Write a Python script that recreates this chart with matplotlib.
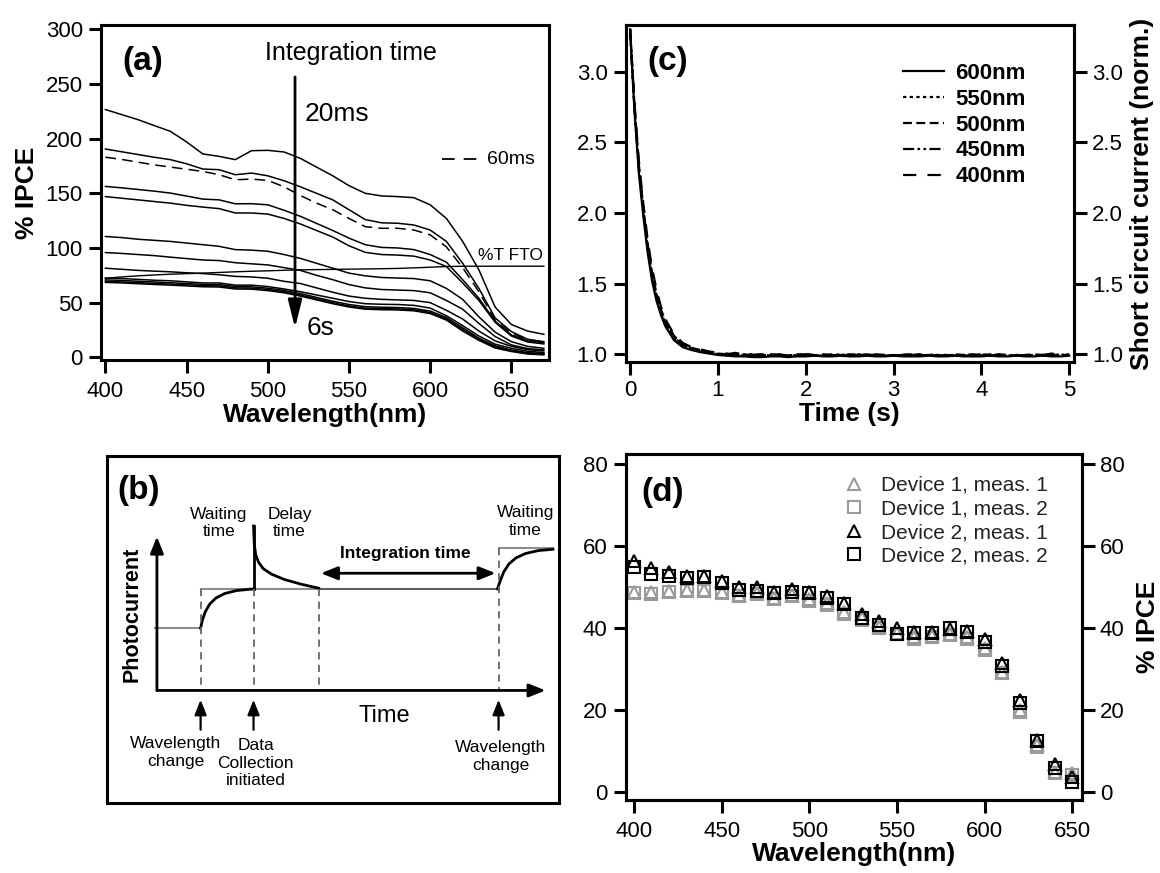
import matplotlib.pyplot as plt

plt.rcParams['font.family'] = ['Liberation Sans', 'DejaVu Sans']
plt.rcParams['axes.linewidth'] = 2.2

# ---------------- (a) IPCE spectra, integration time 20 ms -> 6 s
wl_a = [400, 410, 420, 430, 440, 450, 460, 470, 480, 490, 500, 510, 520, 530,
        540, 550, 560, 570, 580, 590, 600, 610, 620, 630, 640, 650, 660, 670]
ipce_20ms = [226.6, 222, 217.4, 212, 206.7, 197, 186, 183.8, 180.8, 189, 189.3, 187.8, 182, 174,
             166, 157, 150, 147.6, 147, 146, 139.5, 127, 106, 80, 46, 30, 24, 21]
ipce_t2 = [190.5, 188, 185.5, 183, 180.8, 177, 172.2, 171.6, 167, 168.5, 166, 161.5, 156, 150,
           144, 135, 126, 123, 122.6, 121, 116.4, 106, 86, 63, 36, 23.5, 16.5, 14.3]
ipce_60ms = [183, 181, 178.5, 176, 174, 172, 170, 167, 162.4, 163, 161.8, 156, 148, 141,
             135, 127, 119.5, 118, 118, 116.4, 112, 101, 82, 60, 34, 22, 16, 14]
ipce_t4 = [156.3, 155, 153.5, 152, 150.2, 147.5, 144.7, 144, 140.4, 140.5, 139.5, 134.5, 129, 122.5,
           116, 109, 103, 100.5, 100, 98.5, 94, 87, 71, 54, 33, 20.4, 15, 13.4]
ipce_t5 = [147, 145.5, 144, 142.5, 141, 139, 137.4, 136, 132, 132, 131, 127, 122, 116,
           110, 102, 96, 94, 93.5, 92.5, 89, 83, 68, 52, 32, 19.5, 14, 12.2]
ipce_t6 = [110.5, 109.5, 108, 107, 106, 104.5, 103, 101.5, 98.5, 98, 97, 94, 90.5, 86,
           81.5, 77, 74.5, 73, 72.5, 72, 70, 63, 53, 37, 23, 14.3, 10, 8.2]
ipce_t7 = [95.8, 95, 94, 93, 91.6, 90.3, 89, 88.5, 86.5, 85.5, 84.5, 82, 79.5, 75,
           71, 66.5, 63.5, 62, 61.5, 61, 59, 52, 44, 31, 19, 11.3, 8, 6.7]
ipce_t8 = [81.5, 80.5, 79.5, 78.8, 78.2, 77.3, 76.6, 75.5, 74, 73.5, 72.3, 69.5, 67.5, 63.5,
           59.5, 56, 54, 53, 52.5, 52, 50, 43, 35, 24, 15, 10, 7, 5.8]
ipce_t9 = [72.5, 72, 71.3, 70.5, 70, 69, 68, 68, 66, 66, 64.7, 62.5, 60, 57,
           54, 51, 49, 48.5, 48.3, 47.5, 45, 38, 29, 19.5, 12, 8.2, 5.5, 4.3]
ipce_t10 = [70.8, 70.3, 69.6, 68.9, 68.2, 67.5, 66.7, 66.5, 64.7, 64.5, 63.2, 61.2, 58.3, 54.8,
            51.3, 48.3, 46.3, 45.8, 45.5, 44.7, 42.3, 36.3, 27, 17.5, 10.5, 6.7, 4.2, 3.5]
ipce_t11 = [69.5, 69, 68.3, 67.6, 67, 66.3, 65.5, 65.3, 63.5, 63.3, 62, 60, 57, 53.5,
            50, 47, 45, 44.5, 44.3, 43.5, 41, 35, 25.5, 16.5, 9.5, 6, 3.6, 2.8]
ipce_6s = [68.5, 68, 67.3, 66.6, 66, 65.3, 64.5, 64.3, 62.5, 62.3, 61, 59, 56, 52.5,
           49, 46, 44, 43.5, 43.3, 42.5, 40, 34, 24, 15.5, 8.5, 5.3, 3, 2.2]
fto_T = [72.3, 73.5, 74.5, 75.3, 76, 76.5, 77, 77.6, 78.2, 78.7, 79.1, 79.6, 80, 80.2,
         80.4, 80.6, 80.8, 81, 81.3, 81.8, 82.4, 83, 83.3, 83.3, 83.3, 83.3, 83.3, 83.3]
solid_curves_a = [ipce_20ms, ipce_t2, ipce_t4, ipce_t5, ipce_t6, ipce_t7,
                  ipce_t8, ipce_t9, ipce_t10, ipce_t11, ipce_6s]

# ---------------- (c) normalised short circuit current transients
time_c = [0, 0.02, 0.05, 0.1, 0.15, 0.2, 0.25, 0.3, 0.35, 0.4, 0.5, 0.6, 0.7, 0.8, 0.9, 1.0,
          1.1, 1.2, 1.3, 1.4, 1.5, 1.6, 1.7, 1.8, 1.9, 2.0, 2.1, 2.2, 2.3, 2.4, 2.5,
          2.6, 2.7, 2.8, 2.9, 3.0, 3.1, 3.2, 3.3, 3.4, 3.5, 3.6, 3.7, 3.8, 3.9, 4.0,
          4.1, 4.2, 4.3, 4.4, 4.5, 4.6, 4.7, 4.8, 4.9, 5.0]
jsc_600 = [3.30, 3.06, 2.72, 2.28, 1.98, 1.72, 1.52, 1.38, 1.28, 1.20, 1.10, 1.05, 1.03, 1.015, 1.005, 0.995,
           0.99, 0.985, 0.985, 0.98, 0.98, 0.985, 0.985, 0.98, 0.985, 0.985, 0.99, 0.985, 0.985, 0.99, 0.985,
           0.985, 0.99, 0.985, 0.985, 0.99, 0.985, 0.985, 0.985, 0.99, 0.985, 0.985, 0.99, 0.985, 0.985, 0.985,
           0.99, 0.985, 0.985, 0.99, 0.985, 0.985, 0.99, 0.985, 0.985, 0.99]
jsc_550 = [3.30, 3.07, 2.75, 2.32, 2.02, 1.76, 1.56, 1.41, 1.30, 1.22, 1.12, 1.065, 1.04, 1.025, 1.01, 1.0,
           0.995, 0.99, 1.0, 0.99, 0.995, 0.99, 0.995, 0.99, 0.99, 0.995, 0.99, 0.995, 0.99, 1.0, 0.99,
           0.995, 0.99, 0.995, 0.99, 0.99, 0.995, 0.99, 0.995, 0.99, 0.995, 0.99, 0.99, 0.995, 0.99, 0.995,
           0.99, 0.995, 0.99, 0.99, 0.995, 0.99, 0.995, 0.99, 1.0, 0.99]
jsc_500 = [3.30, 3.08, 2.76, 2.34, 2.04, 1.78, 1.58, 1.43, 1.32, 1.24, 1.13, 1.07, 1.045, 1.03, 1.015, 1.005,
           1.0, 1.01, 0.995, 1.0, 0.99, 1.0, 0.995, 0.99, 1.0, 0.995, 0.99, 0.995, 1.0, 0.995, 0.99,
           0.995, 1.0, 0.99, 0.995, 0.99, 0.995, 1.0, 0.995, 0.99, 0.995, 0.99, 1.0, 0.995, 0.99, 0.995,
           1.0, 0.995, 0.99, 0.995, 0.99, 1.0, 0.995, 0.995, 0.99, 0.995]
jsc_450 = [3.30, 3.07, 2.74, 2.31, 2.01, 1.75, 1.55, 1.41, 1.30, 1.22, 1.12, 1.065, 1.04, 1.025, 1.01, 1.0,
           0.995, 1.0, 0.99, 0.995, 1.0, 0.99, 0.995, 0.99, 0.995, 1.0, 0.995, 0.99, 0.995, 0.99, 0.995,
           1.0, 0.99, 0.995, 0.99, 0.995, 0.99, 0.995, 1.0, 0.99, 0.995, 0.99, 0.995, 0.99, 0.995, 1.0,
           0.99, 0.995, 0.99, 0.995, 0.99, 0.995, 0.99, 1.0, 0.995, 0.99]
jsc_400 = [3.30, 3.09, 2.78, 2.37, 2.07, 1.81, 1.61, 1.46, 1.34, 1.25, 1.14, 1.08, 1.05, 1.035, 1.02, 1.01,
           1.005, 1.0, 1.01, 0.995, 1.0, 0.995, 1.0, 0.99, 0.995, 1.0, 0.995, 1.0, 0.99, 0.995, 1.0,
           0.995, 0.99, 1.0, 0.995, 0.99, 0.995, 1.0, 0.99, 0.995, 1.0, 0.995, 0.99, 0.995, 1.0, 0.995,
           0.99, 1.0, 0.995, 0.99, 0.995, 1.0, 0.995, 1.005, 0.995, 1.0]
jsc_series = [('600nm', jsc_600, '-'),
              ('550nm', jsc_550, (0, (1.5, 1.5))),
              ('500nm', jsc_500, (0, (4, 2))),
              ('450nm', jsc_450, (0, (5, 1.5, 1.2, 1.5, 1.2, 1.5))),
              ('400nm', jsc_400, (0, (6, 5)))]

# ---------------- (d) reproducibility of IPCE
wl_d = [400, 410, 420, 430, 440, 450, 460, 470, 480, 490, 500, 510, 520,
        530, 540, 550, 560, 570, 580, 590, 600, 610, 620, 630, 640, 650]
dev1_meas1 = [48.8, 48.8, 49, 49.2, 49.2, 48.8, 48, 48.4, 47.4, 48, 47, 46.1, 43.9,
              42.3, 40.1, 38.8, 37.8, 38, 38.5, 37.8, 35.2, 29.3, 19.9, 11.4, 4.9, 4.5]
dev1_meas2 = [48.4, 48.3, 48.8, 49, 49, 48.4, 47.8, 48.3, 47, 47.8, 46.6, 45.6, 43.5,
              41.9, 39.9, 38.5, 37.4, 37.7, 38.3, 37.4, 34.7, 28.9, 19.5, 11, 4.5, 4.1]
dev2_meas1 = [56.4, 54.5, 53.7, 52.6, 52.6, 51.5, 50, 50, 48.8, 49.6, 48.8, 47.8, 46,
              43.4, 41.7, 39.9, 39, 39, 39.6, 39.3, 37.2, 31.5, 22.4, 12.6, 6.9, 3.7]
dev2_meas2 = [54.8, 53.1, 52.6, 52.1, 52.3, 50.9, 49.2, 49.1, 48.4, 48.8, 48.4, 47.2, 45.7,
              42.3, 40.7, 38.5, 38.8, 38.8, 39.9, 39.1, 36.6, 30.7, 21.7, 12.4, 5.7, 2.4]
d_series = [('Device 1, meas. 1', dev1_meas1, '^', '#9a9a9a'),
            ('Device 1, meas. 2', dev1_meas2, 's', '#9a9a9a'),
            ('Device 2, meas. 1', dev2_meas1, '^', 'black'),
            ('Device 2, meas. 2', dev2_meas2, 's', 'black')]

# ---------------- (b) timing schematic, panel units (x right, y down)
t_change, t_collect, t_delay_end, t_next = 543, 686, 862, 1348
level_base, level_plateau, level_next, level_spike = 565, 447, 325, 258
axis_x0, axis_y0, axis_x1, axis_ytop = 425, 752, 1475, 290
rise_x = [543, 548, 556, 568, 585, 608, 640, 686]
rise_y = [565, 540, 515, 492, 474, 461, 452, 447]
decay_x = [686, 688, 692, 700, 712, 735, 770, 815, 862]
decay_y = [258, 312, 345, 368, 386, 403, 419, 433, 445]
rise2_x = [1345, 1352, 1362, 1376, 1395, 1420, 1455, 1495]
rise2_y = [447, 424, 396, 372, 354, 341, 332, 328]

TICK = dict(direction='out', length=9, width=2.2, labelsize=16)


def style(ax):
    ax.tick_params(**TICK)
    ax.tick_params(axis='x', pad=6)
    ax.tick_params(axis='y', pad=4)


fig = plt.figure(figsize=(11.6, 8.73), dpi=100)

# ================= panel (a)
ax = fig.add_axes([0.0871, 0.5876, 0.3862, 0.3837])
for y in solid_curves_a:
    ax.plot(wl_a, y, color='black', lw=1.1)
ax.plot(wl_a, ipce_60ms, color='black', lw=1.1, ls=(0, (7, 4)))
ax.plot(wl_a, fto_T, color='black', lw=1.0)
ax.set_xlim(397.3, 673.2)
ax.set_ylim(-2.5, 303.9)
ax.set_xticks([400, 450, 500, 550, 600, 650])
ax.set_yticks([0, 50, 100, 150, 200, 250, 300])
ax.tick_params(top=False, right=False)
style(ax)
ax.set_xlabel('Wavelength(nm)', fontsize=19, fontweight='bold', labelpad=1)
ax.set_ylabel('% IPCE', fontsize=19, fontweight='bold', labelpad=5)
ax.text(0.047, 0.89, '(a)', transform=ax.transAxes, fontsize=24, fontweight='bold',
        va='center', ha='left')
ax.text(0.558, 0.916, 'Integration time', transform=ax.transAxes, fontsize=18,
        ha='center', va='center')
ax.annotate('', xy=(0.433, 0.096), xytext=(0.433, 0.845), xycoords='axes fraction',
            arrowprops=dict(arrowstyle='-|>,head_length=0.6,head_width=0.15', lw=2,
                            color='black', mutation_scale=28, shrinkA=0, shrinkB=0))
ax.text(0.455, 0.734, '20ms', transform=ax.transAxes, fontsize=19, ha='left', va='center')
ax.text(0.46, 0.096, '6s', transform=ax.transAxes, fontsize=19, ha='left', va='center')
ax.plot([0.761, 0.839], [0.6, 0.6], transform=ax.transAxes, color='black', lw=1.3,
        ls=(0, (7, 5)))
ax.text(0.862, 0.6, '60ms', transform=ax.transAxes, fontsize=14, ha='left', va='center')
ax.text(0.987, 0.313, '%T FTO', transform=ax.transAxes, fontsize=12.5, ha='right', va='center')

# ================= panel (c)
ax = fig.add_axes([0.5394, 0.5853, 0.3865, 0.386])
handles = []
for name, y, ls in jsc_series:
    h, = ax.plot(time_c, y, color='black', lw=1.6, ls=ls, label=name)
    handles.append(h)
ax.set_xlim(-0.05, 5.055)
ax.set_ylim(0.945, 3.33)
ax.set_xticks([0, 1, 2, 3, 4, 5])
ax.set_yticks([1.0, 1.5, 2.0, 2.5, 3.0])
ax.set_yticklabels(['1.0', '1.5', '2.0', '2.5', '3.0'])
style(ax)
ax.tick_params(axis='x', pad=4)
ax.set_xlabel('Time (s)', fontsize=19, fontweight='bold', labelpad=1)
ax2 = ax.twinx()
ax2.set_ylim(ax.get_ylim())
ax2.set_yticks([1.0, 1.5, 2.0, 2.5, 3.0])
ax2.set_yticklabels(['1.0', '1.5', '2.0', '2.5', '3.0'])
ax2.tick_params(**TICK)
ax2.tick_params(axis='y', pad=4)
ax2.set_ylabel('Short circuit current (norm.)', fontsize=19, fontweight='bold', labelpad=5)
ax.text(0.0475, 0.893, '(c)', transform=ax.transAxes, fontsize=24, fontweight='bold',
        va='center', ha='left')
ax.legend(handles=handles, loc='upper left', bbox_to_anchor=(0.619, 0.888), frameon=False,
          prop=dict(size=16, weight='bold'), handlelength=1.85, handletextpad=0.5,
          labelspacing=0.22, borderpad=0, borderaxespad=0)

# ================= panel (b)
ax = fig.add_axes([0.0922, 0.0802, 0.3893, 0.3978])
ax.set_xlim(290, 1510)
ax.set_ylim(1090, 47)
ax.set_xticks([])
ax.set_yticks([])
grey = '#8c8c8c'
ax.annotate('', xy=(axis_x0, axis_ytop), xytext=(axis_x0, axis_y0),
            arrowprops=dict(arrowstyle='-|>,head_length=0.5,head_width=0.2', lw=2,
                            color='black', mutation_scale=20, shrinkA=0, shrinkB=0))
ax.annotate('', xy=(axis_x1, axis_y0), xytext=(axis_x0, axis_y0),
            arrowprops=dict(arrowstyle='-|>,head_length=0.5,head_width=0.2', lw=2,
                            color='black', mutation_scale=20, shrinkA=0, shrinkB=0))
ax.plot([axis_x0 - 5, t_change], [level_base, level_base], color=grey, lw=1.5)
ax.plot([t_change, t_next], [level_plateau, level_plateau], color=grey, lw=1.5)
ax.plot([t_delay_end, t_next], [level_plateau, level_plateau], color='#555555', lw=1.2)
ax.plot([t_next, 1495], [level_next, level_next], color=grey, lw=1.5)
ax.plot(rise_x, rise_y, color='black', lw=2)
ax.plot([t_collect, t_collect], [level_plateau, level_spike], color='black', lw=2)
ax.plot(decay_x, decay_y, color='black', lw=2)
ax.plot(rise2_x, rise2_y, color='black', lw=2)
for xv, ytop in [(t_change, level_plateau), (t_collect, level_plateau),
                 (t_delay_end, level_plateau), (t_next, level_next)]:
    ax.plot([xv, xv], [ytop, axis_y0], color='#666666', lw=1.3, ls=(0, (4, 3)))
ax.annotate('', xy=(868, 400), xytext=(1340, 400),
            arrowprops=dict(arrowstyle='<|-|>,head_length=0.5,head_width=0.2', lw=2,
                            color='black', mutation_scale=20, shrinkA=0, shrinkB=0))
for xv in [t_change, t_collect, t_next]:
    ax.annotate('', xy=(xv, 780), xytext=(xv, 870),
                arrowprops=dict(arrowstyle='-|>,head_length=0.5,head_width=0.2', lw=1.6,
                                color='black', mutation_scale=18, shrinkA=0, shrinkB=0))
txt = dict(fontsize=12.5, ha='center', va='center', linespacing=1.2)
ax.text(375, 150, '(b)', fontsize=24, fontweight='bold', ha='center', va='center')
ax.text(592, 250, 'Waiting\ntime', **txt)
ax.text(783, 250, 'Delay\ntime', **txt)
ax.text(1420, 245, 'Waiting\ntime', **txt)
ax.text(1095, 342, 'Integration time', fontsize=12.5, fontweight='bold', ha='center', va='center')
ax.text(358, 525, 'Photocurrent', fontsize=15.5, fontweight='bold', rotation=90,
        ha='center', va='center')
ax.text(1040, 828, 'Time', fontsize=17, ha='center', va='center')
ax.text(475, 938, 'Wavelength\nchange', **txt)
ax.text(692, 970, 'Data\nCollection\ninitiated', **txt)
ax.text(1353, 950, 'Wavelength\nchange', **txt)

# ================= panel (d)
ax = fig.add_axes([0.5394, 0.0836, 0.3931, 0.3963])
handles = []
for name, y, m, c in d_series:
    h, = ax.plot(wl_d, y, ls='none', marker=m, ms=8, mfc='none', mec=c, mew=1.5, label=name)
    handles.append(h)
ax.set_xlim(395.3, 655.4)
ax.set_ylim(-2, 82.4)
ax.set_xticks([400, 450, 500, 550, 600, 650])
ax.set_yticks([0, 20, 40, 60, 80])
style(ax)
ax.set_xlabel('Wavelength(nm)', fontsize=19, fontweight='bold', labelpad=0)
ax2 = ax.twinx()
ax2.set_ylim(ax.get_ylim())
ax2.set_yticks([0, 20, 40, 60, 80])
ax2.tick_params(**TICK)
ax2.tick_params(axis='y', pad=4)
ax2.set_ylabel('% IPCE', fontsize=19, fontweight='bold', labelpad=8)
ax.text(0.035, 0.889, '(d)', transform=ax.transAxes, fontsize=24, fontweight='bold',
        va='center', ha='left')
leg = ax.legend(handles=handles, loc='upper left', bbox_to_anchor=(0.478, 0.937),
                frameon=False, fontsize=15, handlelength=1.0, handletextpad=0.77,
                labelspacing=0.22, borderpad=0, borderaxespad=0)
for t in leg.get_texts():
    t.set_color('#222222')

fig.savefig('out.png', dpi=100)
